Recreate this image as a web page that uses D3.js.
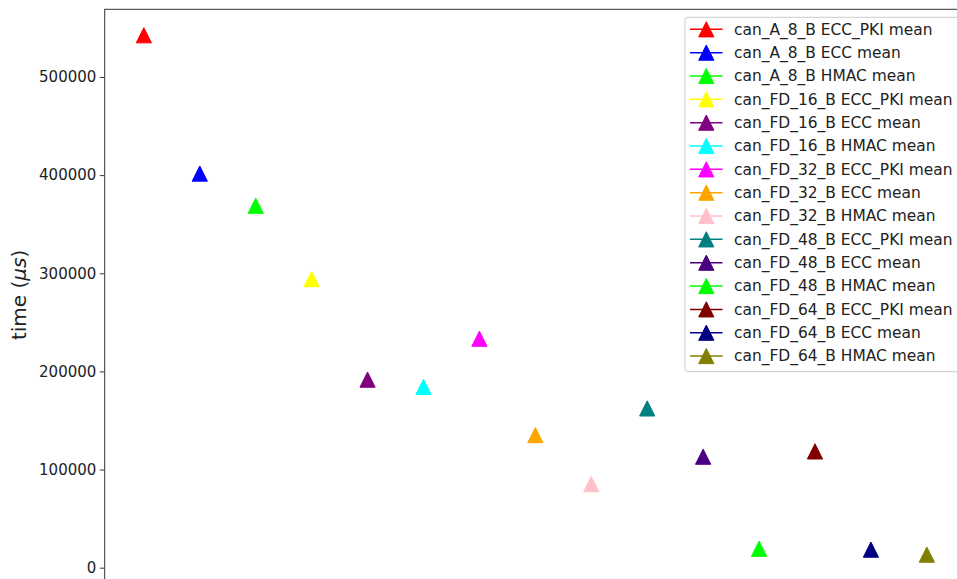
<!DOCTYPE html>
<html><head><meta charset="utf-8">
<script src="https://cdn.jsdelivr.net/npm/d3@7"></script>
<style>body{margin:0;background:#fff;} svg{display:block;font-family:"DejaVu Sans",sans-serif;}</style>
</head><body><svg id="c" width="957" height="579"></svg>
<script>
const seriesNames = ["can_A_8_B ECC_PKI mean","can_A_8_B ECC mean","can_A_8_B HMAC mean",
 "can_FD_16_B ECC_PKI mean","can_FD_16_B ECC mean","can_FD_16_B HMAC mean",
 "can_FD_32_B ECC_PKI mean","can_FD_32_B ECC mean","can_FD_32_B HMAC mean",
 "can_FD_48_B ECC_PKI mean","can_FD_48_B ECC mean","can_FD_48_B HMAC mean",
 "can_FD_64_B ECC_PKI mean","can_FD_64_B ECC mean","can_FD_64_B HMAC mean"];
const meanValues = [542500,401600,368800,294000,191600,184200,233300,135100,85100,162300,113100,19300,118500,18400,13300];
const seriesColors = ["#ff0000","#0000ff","#00ff00","#ffff00","#800080","#00ffff","#ff00ff","#ffa500","#ffc0cb","#008080","#4b0082","#00ff00","#800000","#000080","#808000"];
const yTicks = [0,100000,200000,300000,400000,500000];
const yLabel = "time (";

const svg = d3.select("#c");
const pLeft = 104.7, pTop = 9.3, pRight = 966, pBottom = 580.6;
const n = meanValues.length;
const pad = 0.05;
const yMin = d3.min(meanValues), yMax = d3.max(meanValues);
const yr = yMax - yMin;
const y = d3.scaleLinear().domain([yMin - pad*yr, yMax + pad*yr]).range([pBottom, pTop]);
const x = d3.scaleLinear().domain([-pad*(n-1), (n-1)*(1+pad)]).range([pLeft, pRight]);

const tri = (cx, cy, s) => `M${cx},${cy-s}L${cx+s},${cy+s}L${cx-s},${cy+s}Z`;
const ms = 7.6;

// points
svg.append("g").selectAll("path").data(meanValues).join("path")
  .attr("d", (d,i) => tri(x(i), y(d), ms))
  .attr("fill", (d,i) => seriesColors[i])
  .attr("stroke", (d,i) => seriesColors[i]).attr("stroke-width", 1);

// y axis
const yAxis = d3.axisLeft(y).tickValues(yTicks).tickFormat(d3.format("d")).tickSize(4.9).tickPadding(3.5);
const ga = svg.append("g").attr("transform", `translate(${pLeft},0)`).call(yAxis);
ga.select(".domain").remove();
ga.selectAll("line").attr("stroke", "#222").attr("stroke-width", 0.9);
ga.selectAll("text").attr("font-size", 15).attr("fill", "#222").attr("font-family", "DejaVu Sans");

// spines
svg.append("rect").attr("x", pLeft).attr("y", pTop).attr("width", pRight-pLeft).attr("height", pBottom-pTop)
  .attr("fill", "none").attr("stroke", "#333").attr("stroke-width", 1);

// y label
const yl = svg.append("text").attr("transform", `translate(26,${(pTop+pBottom)/2}) rotate(-90)`)
  .attr("text-anchor", "middle").attr("font-size", 20).attr("fill", "#222");
yl.append("tspan").text(yLabel);
yl.append("tspan").attr("font-style", "italic").text("μs");
yl.append("tspan").text(")");

// legend
const lg = svg.append("g");
const lx = 685, ly = 17.3, rowH = 23.34, firstRow = 29.3;
lg.append("rect").attr("x", lx).attr("y", ly).attr("width", 300).attr("height", 371.7-ly)
  .attr("rx", 3).attr("fill", "#fff").attr("fill-opacity", 0.8).attr("stroke", "#ccc").attr("stroke-width", 1);
const rows = lg.selectAll("g.row").data(seriesNames).join("g").attr("class","row")
  .attr("transform", (d,i) => `translate(0,${firstRow + i*rowH})`);
rows.append("line").attr("x1", 690).attr("x2", 722.5).attr("y1", 0).attr("y2", 0)
  .attr("stroke", (d,i) => seriesColors[i]).attr("stroke-width", 1.5);
rows.append("path").attr("d", (d,i) => tri(706.3, 0, ms))
  .attr("fill", (d,i) => seriesColors[i]).attr("stroke", (d,i) => seriesColors[i]).attr("stroke-width", 1);
rows.append("text").attr("x", 734).attr("y", 0).attr("dy", "0.35em").attr("font-size", 15.45).attr("fill", "#222")
  .text(d => d);
</script></body></html>
